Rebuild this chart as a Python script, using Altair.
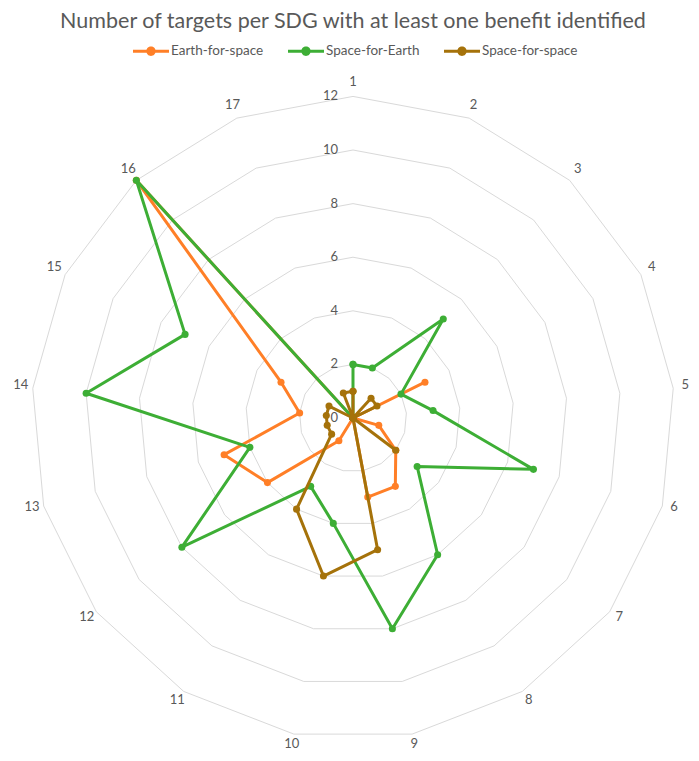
import math
import altair as alt
import pandas as pd

# ---- data ----
sdg = list(range(1, 18))
earth_for_space = [0, 0, 0, 3, 0, 1, 2, 3, 3, 0, 1, 4, 5, 2, 3, 12, 0]
space_for_earth = [2, 2, 5, 2, 3, 7, 3, 6, 8, 4, 3, 8, 4, 10, 7, 12, 0]
space_for_space = [1, 0, 1, 1, 0, 0, 2, 0, 5, 6, 4, 1, 1, 1, 1, 0, 1]
series_names = ["Earth-for-space", "Space-for-Earth", "Space-for-space"]
series_colors = ["#FF7F27", "#3DAE35", "#A5720A"]
grid_levels = [0, 2, 4, 6, 8, 10, 12]
title_text = "Number of targets per SDG with at least one benefit identified"

FONT = "Lato"
GREY = "#595959"
N = len(sdg)

# ---- tables built from the lists ----
rows = []
for name, vals in zip(series_names, [earth_for_space, space_for_earth, space_for_space]):
    for i in range(N + 1):
        k = i % N
        rows.append({"series": name, "sdg": sdg[k], "value": vals[k], "ord": i})
df = pd.DataFrame(rows)

grid_rows = []
for lv in grid_levels[1:]:
    for i in range(N + 1):
        grid_rows.append({"level": lv, "sdg": sdg[i % N], "value": lv, "ord": i})
grid_df = pd.DataFrame(grid_rows)

lvl_df = pd.DataFrame({"sdg": [1] * len(grid_levels), "value": grid_levels,
                       "label": [str(v) for v in grid_levels]})
cat_df = pd.DataFrame({"sdg": sdg, "value": [12.45] * N, "label": [str(s) for s in sdg]})
title_df = pd.DataFrame({"t": [title_text]})

ANG = "(datum.sdg - 1) * 2 * PI / %d" % N
xs = alt.Scale(domain=[-12.873, 12.612], nice=False, zero=False)
ys = alt.Scale(domain=[-12.5, 15.299], nice=False, zero=False)


def polar(ch):
    return ch.transform_calculate(
        px="datum.value * sin(" + ANG + ")",
        py="datum.value * cos(" + ANG + ")",
    )


X = alt.X("px:Q", scale=xs, axis=None)
Y = alt.Y("py:Q", scale=ys, axis=None)

grid = polar(alt.Chart(grid_df)).mark_line(color="#D9D9D9", strokeWidth=1).encode(
    x=X, y=Y, detail="level:N", order="ord:Q"
)

lvl_text = polar(alt.Chart(lvl_df)).mark_text(
    align="right", baseline="middle", dx=-15, font=FONT, fontSize=13, color=GREY
).encode(x=X, y=Y, text="label:N")

cat_text = polar(alt.Chart(cat_df)).mark_text(
    align="center", baseline="middle", dy=-2, font=FONT, fontSize=13, color=GREY
).encode(x=X, y=Y, text="label:N")

color_scale = alt.Scale(domain=series_names, range=series_colors)
legend_path = ("M-1,-0.085L1,-0.085L1,0.085L-1,0.085Z"
               "M0.26,0A0.26,0.26,0,1,1,-0.26,0A0.26,0.26,0,1,1,0.26,0Z")
legend = alt.Legend(
    title=None, orient="none", legendX=125, legendY=25,
    direction="horizontal", symbolType=legend_path, symbolSize=1296,
    symbolStrokeWidth=0, symbolOpacity=1, labelFont=FONT, labelFontSize=13.5,
    labelColor=GREY, labelOffset=2, columnPadding=24, padding=0,
)

layers = [grid, lvl_text, cat_text]
for name, col in zip(series_names, series_colors):
    base = polar(alt.Chart(df)).transform_filter(alt.datum.series == name)
    line = base.mark_line(strokeWidth=3, strokeJoin="round", color=col).encode(
        x=X, y=Y, order="ord:Q",
    )
    pts = base.mark_point(filled=True, size=50, opacity=1).encode(
        x=X, y=Y,
        color=alt.Color("series:N", scale=color_scale, legend=legend),
    )
    layers += [line, pts]

title = alt.Chart(title_df).mark_text(
    align="center", baseline="middle", font=FONT, fontSize=21.5, color=GREY
).encode(x=alt.value(345), y=alt.value(14), text="t:N")
layers.append(title)

chart = alt.layer(*layers).properties(
    width=683, height=745, padding=0, autosize=alt.AutoSizeParams(type="none")
).configure_view(stroke=None)

chart.save("out.html", embed_options={"renderer": "svg", "actions": False})
